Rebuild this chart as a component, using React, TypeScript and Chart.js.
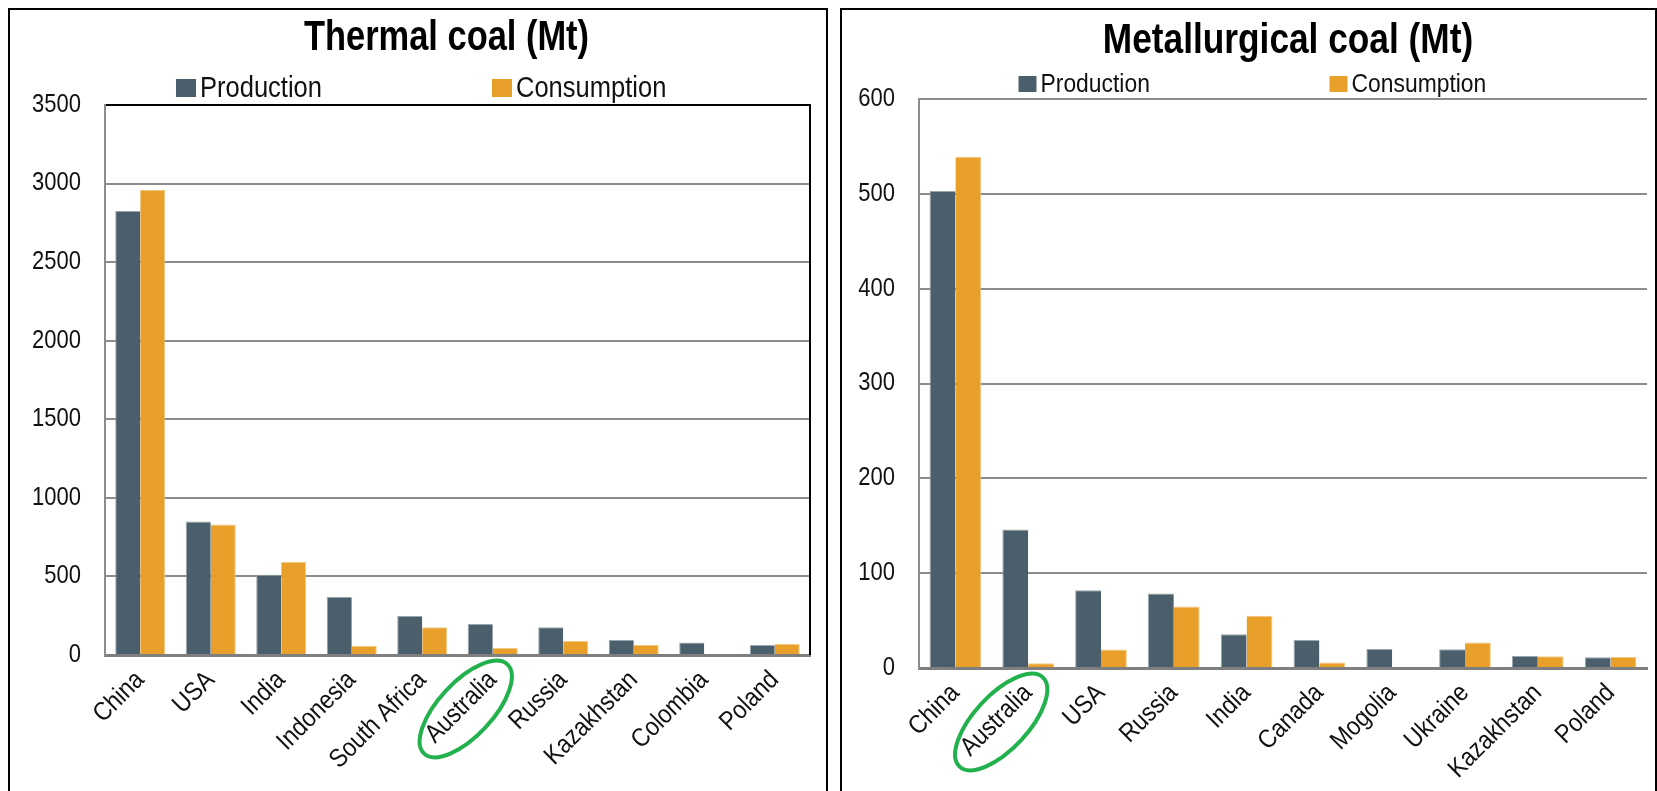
import React, { useEffect, useRef } from 'react';
import { Chart, registerables } from 'chart.js';

Chart.register(...registerables);

// Thermal coal, million tonnes
const thermalCountries = ['China', 'USA', 'India', 'Indonesia', 'South Africa', 'Australia', 'Russia', 'Kazakhstan', 'Colombia', 'Poland'];
const thermalProduction = [2825, 850, 510, 370, 248, 197, 176, 95, 79, 64];
const thermalConsumption = [2960, 830, 592, 59, 176, 45, 89, 64, null, 70];
const thermalTicks = [0, 500, 1000, 1500, 2000, 2500, 3000, 3500];

// Metallurgical coal, million tonnes
const metCountries = ['China', 'Australia', 'USA', 'Russia', 'India', 'Canada', 'Mogolia', 'Ukraine', 'Kazakhstan', 'Poland'];
const metProduction = [503, 146, 82, 78.5, 35.5, 29.6, 20, 19.7, 12.7, 11.3];
const metConsumption = [539, 5, 19.4, 64.8, 55, 5.7, null, 26.8, 12.3, 11.6];
const metTicks = [0, 100, 200, 300, 400, 500, 600];

const FONT = "'Liberation Sans', Arial, sans-serif";
const NARROW_REGULAR = 0.88; // horizontal squeeze for regular text
const NARROW_BOLD = 0.82; // horizontal squeeze for bold text
const PROD_COLOR = '#4a5f6b';
const CONS_COLOR = '#e8a02a';
const GRID_GRAY = '#8c8c8c';
const TEXT_COLOR = '#111111';

// Draws every canvas text of the chart horizontally condensed
const condensedText = {
  id: 'condensedText',
  beforeInit(chart: any) {
    const ctx = chart.ctx;
    const fill = ctx.fillText.bind(ctx);
    const measure = ctx.measureText.bind(ctx);
    const squeeze = () => (/bold/.test(ctx.font) ? NARROW_BOLD : NARROW_REGULAR);
    ctx.fillText = (text: string, x: number, y: number) => {
      const s = squeeze();
      ctx.save();
      ctx.translate(x, y);
      ctx.scale(s, 1);
      fill(text, 0, 0);
      ctx.restore();
    };
    ctx.measureText = (text: string) => {
      const s = squeeze();
      const m = measure(text);
      return {
        width: m.width * s,
        actualBoundingBoxAscent: m.actualBoundingBoxAscent,
        actualBoundingBoxDescent: m.actualBoundingBoxDescent,
        actualBoundingBoxLeft: m.actualBoundingBoxLeft * s,
        actualBoundingBoxRight: m.actualBoundingBoxRight * s,
      };
    };
  },
  // Nudge the title block horizontally relative to the plot area
  beforeDraw(chart: any, _args: any, opts: any) {
    const tb = chart.titleBlock;
    if (!tb) return;
    tb.left = chart.chartArea.left + (opts.titleShift || 0);
    tb.right = chart.chartArea.right + (opts.titleShift || 0);
  },
};

// Legend drawn in fixed-width slots, centred on the canvas
const slotLegend = {
  id: 'slotLegend',
  afterDraw(chart: any, _args: any, opts: any) {
    const { ctx, chartArea, width } = chart;
    ctx.save();
    ctx.font = `${opts.fontSize}px ${FONT}`;
    ctx.textBaseline = 'alphabetic';
    ctx.textAlign = 'left';
    const baseline = chartArea.top - opts.baselineAbove;
    chart.data.datasets.forEach((ds: any, i: number) => {
      const x = width / 2 + opts.startOffset + i * opts.slot;
      ctx.fillStyle = ds.backgroundColor;
      ctx.fillRect(x, baseline - opts.boxH, opts.boxW, opts.boxH);
      ctx.fillStyle = TEXT_COLOR;
      ctx.fillText(ds.label, x + opts.boxW + 4, baseline);
    });
    ctx.restore();
  },
};

// Ring drawn around one category label
const labelHighlight = {
  id: 'labelHighlight',
  afterDraw(chart: any, _args: any, opts: any) {
    const idx = chart.data.labels.indexOf(opts.label);
    if (idx < 0) return;
    const { ctx } = chart;
    const xs = chart.scales.x;
    const cx = xs.getPixelForTick(idx) + opts.dx;
    const cy = xs.top + opts.dy;
    ctx.save();
    ctx.strokeStyle = opts.color;
    ctx.lineWidth = opts.lineWidth;
    ctx.beginPath();
    ctx.ellipse(cx, cy, opts.rx, opts.ry, opts.angle, 0, Math.PI * 2);
    ctx.stroke();
    ctx.restore();
  },
};

// Optional right-hand edge of the plot area
const plotFrame = {
  id: 'plotFrame',
  afterDraw(chart: any, _args: any, opts: any) {
    if (!opts.right) return;
    const { ctx, chartArea } = chart;
    ctx.save();
    ctx.strokeStyle = opts.color;
    ctx.lineWidth = opts.width;
    ctx.beginPath();
    ctx.moveTo(chartArea.right, chartArea.top - 1);
    ctx.lineTo(chartArea.right, chartArea.bottom);
    ctx.stroke();
    ctx.restore();
  },
};

type PanelProps = {
  title: string;
  labels: string[];
  production: (number | null)[];
  consumption: (number | null)[];
  ticks: number[];
  width: number;
  height: number;
  areaLeft: number;
  areaRight: number;
  areaBottom: number;
  titleSize: number;
  titlePad: { top: number; bottom: number };
  titleShift: number;
  legend: any;
  topLineColor: string;
  rightFrame: boolean;
};

function CoalPanel(p: PanelProps) {
  const ref = useRef<HTMLCanvasElement>(null);

  useEffect(() => {
    if (!ref.current) return;
    const max = p.ticks[p.ticks.length - 1];
    const step = p.ticks[1] - p.ticks[0];
    const chart = new Chart(ref.current, {
      type: 'bar',
      data: {
        labels: p.labels,
        datasets: [
          {
            label: 'Production',
            data: p.production,
            backgroundColor: PROD_COLOR,
            borderColor: '#9aa6ad',
            borderWidth: { top: 1, left: 1, right: 0, bottom: 0 },
            categoryPercentage: 0.71,
            barPercentage: 1.0,
          },
          {
            label: 'Consumption',
            data: p.consumption,
            backgroundColor: CONS_COLOR,
            borderColor: '#f2c883',
            borderWidth: { top: 1, left: 0, right: 1, bottom: 0 },
            categoryPercentage: 0.71,
            barPercentage: 1.0,
          },
        ],
      },
      options: {
        responsive: false,
        animation: false,
        devicePixelRatio: 1,
        layout: { padding: { left: 0, right: p.width - p.areaRight, top: 0, bottom: 0 } },
        scales: {
          x: {
            grid: { display: false },
            border: { display: true, color: '#7f7f7f', width: 3 },
            ticks: {
              autoSkip: false,
              maxRotation: 45,
              minRotation: 45,
              padding: 2,
              color: TEXT_COLOR,
              font: { family: FONT, size: 26 },
            },
            afterFit: (scale: any) => {
              scale.height = p.height - p.areaBottom;
            },
          },
          y: {
            min: 0,
            max,
            grid: {
              drawTicks: false,
              lineWidth: 2,
              color: (c: any) => (c.tick && c.tick.value === max ? p.topLineColor : GRID_GRAY),
            },
            border: { display: true, color: GRID_GRAY, width: 2 },
            ticks: {
              stepSize: step,
              padding: 24,
              color: TEXT_COLOR,
              font: { family: FONT, size: 25 },
              callback: (v: any) => String(v),
            },
            afterFit: (scale: any) => {
              scale.width = p.areaLeft;
            },
          },
        },
        plugins: {
          legend: { display: false },
          tooltip: { enabled: false },
          title: {
            display: true,
            text: p.title,
            fullSize: false,
            color: '#000',
            font: { family: FONT, size: p.titleSize, weight: 'bold' },
            padding: p.titlePad,
          },
          condensedText: { titleShift: p.titleShift },
          slotLegend: p.legend,
          labelHighlight: {
            label: 'Australia',
            dx: -27,
            dy: 54,
            rx: 61,
            ry: 27,
            angle: (-47 * Math.PI) / 180,
            color: '#22b14c',
            lineWidth: 4,
          },
          plotFrame: { right: p.rightFrame, color: '#000', width: 2 },
        } as any,
      },
      plugins: [condensedText, slotLegend, labelHighlight, plotFrame],
    });
    return () => chart.destroy();
  }, []);

  return <canvas ref={ref} width={p.width} height={p.height} style={{ display: 'block' }} />;
}

const panelStyle = (left: number, width: number): React.CSSProperties => ({
  position: 'absolute',
  left,
  top: 8,
  width,
  height: 800,
  border: '2px solid #000',
  boxSizing: 'border-box',
  background: '#fff',
  overflow: 'hidden',
});

export default function App() {
  return (
    <div style={{ position: 'fixed', left: 0, top: 0, width: 1657, height: 791, overflow: 'hidden', background: '#fff' }}>
      <div style={panelStyle(8, 820)}>
        <CoalPanel
          title="Thermal coal (Mt)"
          labels={thermalCountries}
          production={thermalProduction}
          consumption={thermalConsumption}
          ticks={thermalTicks}
          width={816}
          height={781}
          areaLeft={95}
          areaRight={800}
          areaBottom={645}
          titleSize={42}
          titlePad={{ top: 3, bottom: 41.6 }}
          titleShift={-11}
          legend={{ fontSize: 29, boxW: 20, boxH: 18, baselineAbove: 8, startOffset: -242, slot: 316 }}
          topLineColor="#000"
          rightFrame={true}
        />
      </div>
      <div style={panelStyle(840, 817)}>
        <CoalPanel
          title="Metallurgical coal (Mt)"
          labels={metCountries}
          production={metProduction}
          consumption={metConsumption}
          ticks={metTicks}
          width={813}
          height={781}
          areaLeft={77}
          areaRight={805}
          areaBottom={658}
          titleSize={43}
          titlePad={{ top: 5.4, bottom: 32 }}
          titleShift={5}
          legend={{ fontSize: 26, boxW: 18, boxH: 16, baselineAbove: 7, startOffset: -230, slot: 311 }}
          topLineColor={GRID_GRAY}
          rightFrame={false}
        />
      </div>
    </div>
  );
}
